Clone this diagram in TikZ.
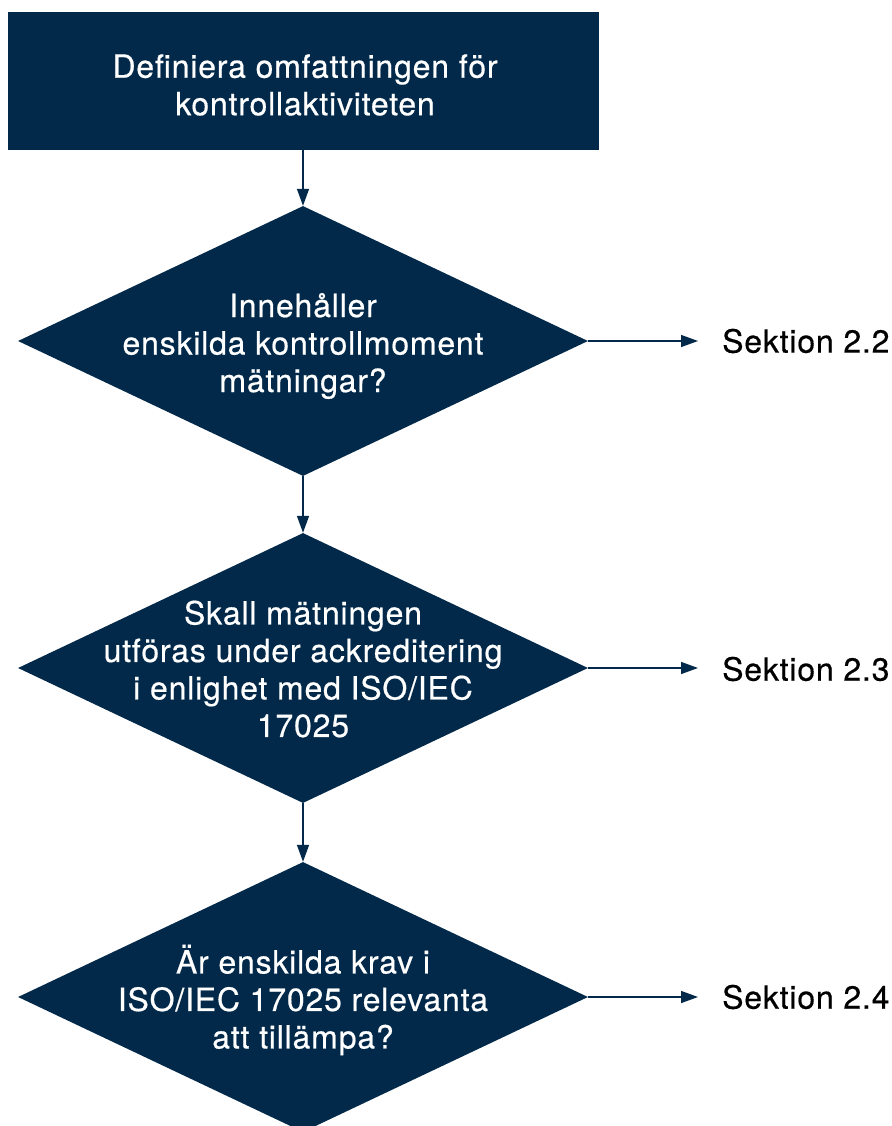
\documentclass[tikz,border=0pt]{standalone}
\usepackage{fontspec}
\setmainfont[LetterSpace=2.5,FakeBold=0.5]{TeX Gyre Heros}
\usetikzlibrary{shapes.geometric,arrows.meta}
\definecolor{navy}{RGB}{2,41,73}
\begin{document}
\begin{tikzpicture}[x=1pt,y=-1pt,
  boxst/.style={fill=navy, draw=none, minimum width=591pt, minimum height=138pt, inner sep=0pt},
  dia/.style={diamond, fill=navy, draw=none, minimum width=570pt, minimum height=270pt, inner sep=0pt},
  intext/.style={text=white, align=center, inner sep=0pt, font=\fontsize{32}{37.5}\selectfont},
  outtext/.style={text=black, anchor=west, inner sep=0pt, font=\fontsize{32}{37.5}\selectfont},
  conn/.style={draw=navy, line width=1.4pt, -{Triangle[length=17pt,width=12pt]}}]
\useasboundingbox (0,0) rectangle (891,1126);
\node[boxst] (b) at (303,81) {};
\node[intext] (bt) at (305,85) {Definiera omfattningen för\\kontrollaktiviteten};
\node[dia] (d1) at (303,341) {};
\node[intext] (d1t) at (303,346) {Innehåller\\enskilda kontrollmoment\\mätningar?};
\node[dia] (d2) at (303,668) {};
\node[intext] (d2t) at (303,669) {Skall mätningen\\utföras under ackreditering\\i enlighet med ISO/IEC\\17025};
\node[dia] (d3) at (303,997) {};
\node[intext] (d3t) at (303,1000) {Är enskilda krav i\\ISO/IEC 17025 relevanta\\att tillämpa?};
\node[outtext] (s1) at (722,341) {Sektion 2.2};
\node[outtext] (s2) at (722,669) {Sektion 2.3};
\node[outtext] (s3) at (722,997) {Sektion 2.4};
\coordinate (e1) at (698,341);
\coordinate (e2) at (698,668);
\coordinate (e3) at (698,997);
\draw[conn] (b.south) -- (d1.north);
\draw[conn] (d1.south) -- (d2.north);
\draw[conn] (d2.south) -- (d3.north);
\draw[conn] (d1.east) -- (e1);
\draw[conn] (d2.east) -- (e2);
\draw[conn] (d3.east) -- (e3);
\end{tikzpicture}
\end{document}
